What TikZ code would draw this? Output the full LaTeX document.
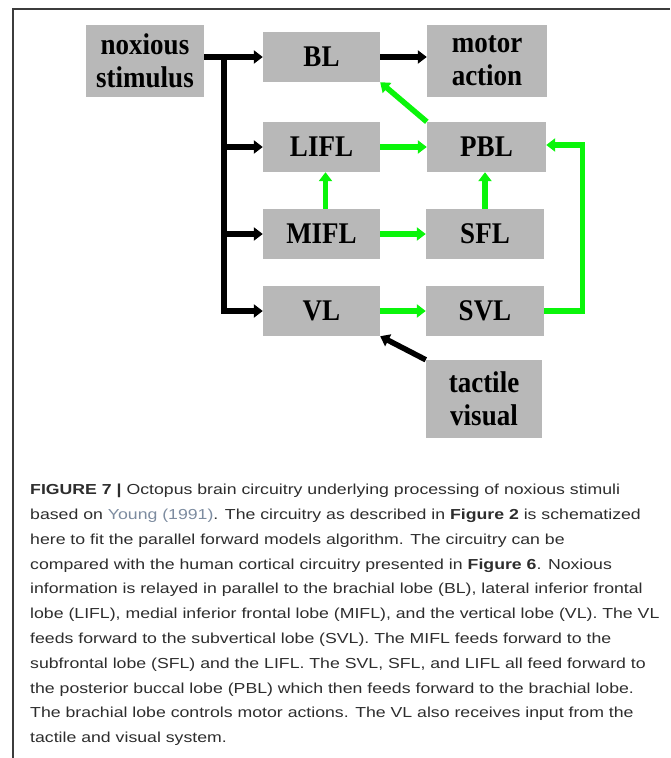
\documentclass[tikz,border=0pt]{standalone}
\usepackage{fontspec}
\usepackage{xcolor}
\usepackage{tikz}
\usetikzlibrary{arrows.meta, calc, positioning}
\setmainfont{Liberation Sans}
\newfontfamily\lobefont{Liberation Serif}[FakeStretch=0.9]
\newfontfamily\capfont{Liberation Sans}[FakeStretch=1.22]
\definecolor{lobegray}{RGB}{184,184,184}
\definecolor{feedgreen}{RGB}{10,245,10}
\definecolor{framegray}{RGB}{60,60,60}
\definecolor{capgray}{RGB}{45,45,45}
\definecolor{linkgray}{RGB}{125,140,160}

\begin{document}
\begin{tikzpicture}[x=1pt, y=-1pt,
        lobe/.style={fill=lobegray, inner sep=0pt, minimum width=117pt, minimum height=50pt,
            align=center, font=\lobefont\bfseries\fontsize{30}{33}\selectfont},
        blk/.style={line width=5.5pt, -{Triangle[length=9pt, width=13pt]}},
        grn/.style={blk, draw=feedgreen}]
    \useasboundingbox (0,0) rectangle (670,758);
    \draw[framegray, line width=1.2pt] (13,758) -- (13,9);
    \draw[framegray, line width=1.2pt] (12.4,9) -- (670,9);

    \node[lobe, minimum width=118pt, minimum height=72pt] (nox) at (145, 61) {noxious\\stimulus};
    \node[lobe] (BL) at (321.5, 57) {BL};
    \node[lobe, minimum width=120pt, minimum height=72pt] (mot) at (487, 61) {motor\\action};
    \node[lobe] (LIFL) at (321.5, 147) {LIFL};
    \node[lobe, minimum width=119pt] (PBL) at (486.5, 147) {PBL};
    \node[lobe] (MIFL) at (321.5, 234) {MIFL};
    \node[lobe, minimum width=118pt] (SFL) at (485, 234) {SFL};
    \node[lobe] (VL) at (321.5, 311) {VL};
    \node[lobe, minimum width=118pt] (SVL) at (485, 311) {SVL};
    \node[lobe, minimum width=116pt, minimum height=78pt] (tac) at (484, 399) {tactile\\visual};

    \coordinate (trunk) at (224, 57);
    \coordinate (loop) at (582.5, 145);

    % noxious input, relayed in parallel
    \draw[blk] (nox.east |- BL) -- (BL.west);
    \draw[blk] (trunk) |- (VL.west);
    \draw[blk] (trunk |- LIFL) -- (LIFL.west);
    \draw[blk] (trunk |- MIFL) -- (MIFL.west);
    \draw[blk] (BL.east) -- (mot.west |- BL);
    \draw[blk] (tac.north west) -- (VL.south east);

    % forward models
    \draw[grn] (PBL.north west) -- (BL.south east);
    \draw[grn] (LIFL.east) -- (PBL.west);
    \draw[grn] ([xshift=4pt]MIFL.north) -- ([xshift=4pt]LIFL.south);
    \draw[grn] (SFL.north) -- (SFL.north |- PBL.south);
    \draw[grn] (MIFL.east) -- (SFL.west);
    \draw[grn] (VL.east) -- (SVL.west);
    \draw[grn] (SVL.east) -| (loop) -- (loop -| PBL.east);

    \node[anchor=north west, inner sep=0pt, align=left, text=capgray,
        font=\capfont\fontsize{14.5}{24.8}\selectfont] (cap) at (30, 484) {%
        \textbf{FIGURE 7 |} Octopus brain circuitry underlying processing of noxious stimuli\\
        based on {\color{linkgray}Young (1991)}. The circuitry as described in \textbf{Figure 2} is schematized\\
        here to fit the parallel forward models algorithm. The circuitry can be\\
        compared with the human cortical circuitry presented in \textbf{Figure 6}. Noxious\\
        information is relayed in parallel to the brachial lobe (BL), lateral inferior frontal\\
        lobe (LIFL), medial inferior frontal lobe (MIFL), and the vertical lobe (VL). The VL\\
        feeds forward to the subvertical lobe (SVL). The MIFL feeds forward to the\\
        subfrontal lobe (SFL) and the LIFL. The SVL, SFL, and LIFL all feed forward to\\
        the posterior buccal lobe (PBL) which then feeds forward to the brachial lobe.\\
        The brachial lobe controls motor actions. The VL also receives input from the\\
        tactile and visual system.};
\end{tikzpicture}
\end{document}
